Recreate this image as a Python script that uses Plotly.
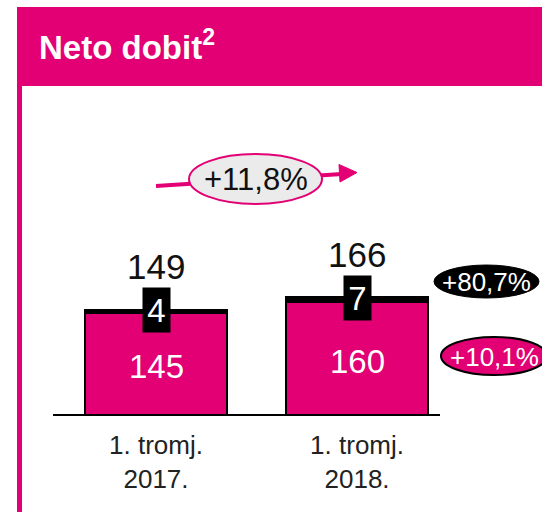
import plotly.graph_objects as go

# ---- data ----
categories = ["1. tromj.<br>2017.", "1. tromj.<br>2018."]
base_values = [145, 160]
top_values = [4, 7]
totals = [149, 166]
total_growth = "+11,8%"
top_growth = "+80,7%"
base_growth = "+10,1%"
title_text = "<b>Neto dobit<sup>2</sup></b>"

MAGENTA = "#E20074"
SANS = "Liberation Sans, Arial, sans-serif"

W, H = 542, 512
PLOT_BOTTOM = 415  # pixel row of the axis baseline
YMAX = 588.7


def X(px):
    return px / W


def Y(py):
    return (PLOT_BOTTOM - py) / PLOT_BOTTOM


fig = go.Figure()
fig.add_trace(go.Bar(
    x=categories, y=base_values, width=0.71,
    marker=dict(color=MAGENTA, line=dict(color="black", width=2)),
    hoverinfo="skip", showlegend=False,
))
fig.add_trace(go.Bar(
    x=categories, y=top_values, width=0.71,
    marker=dict(color="black", line=dict(color="black", width=2)),
    hoverinfo="skip", showlegend=False,
))

annotations = []
for cat, b, t, tot in zip(categories, base_values, top_values, totals):
    # total above the stack
    annotations.append(dict(x=cat, y=tot, xref="x", yref="y", text=str(tot),
                            showarrow=False, xanchor="center", yanchor="middle", yshift=43,
                            font=dict(family=SANS, size=35, color="#111")))
    # black box with the top segment value
    annotations.append(dict(x=cat, y=tot, xref="x", yref="y", text=str(t),
                            showarrow=False, yanchor="middle", xanchor="center",
                            width=27, height=44, bgcolor="black", borderpad=0,
                            font=dict(family=SANS, size=33, color="white")))
    # base value inside the bar
    annotations.append(dict(x=cat, y=b / 2, xref="x", yref="y", text=str(b),
                            showarrow=False, xanchor="center", yanchor="middle", yshift=-3,
                            font=dict(family=SANS, size=33, color="white")))

# title
annotations.append(dict(x=X(37), y=Y(45), xref="paper", yref="paper",
                        text=title_text, showarrow=False, xanchor="left", yanchor="middle",
                        font=dict(family=SANS, size=33, color="white")))
# growth labels
annotations.append(dict(x=X(256), y=Y(179), xref="paper", yref="paper", text=total_growth,
                        showarrow=False, xanchor="center", yanchor="middle",
                        font=dict(family=SANS, size=31, color="#111")))
annotations.append(dict(x=X(486), y=Y(282), xref="paper", yref="paper", text=top_growth,
                        showarrow=False, xanchor="center", yanchor="middle",
                        font=dict(family=SANS, size=26, color="white")))
annotations.append(dict(x=X(494), y=Y(357), xref="paper", yref="paper", text=base_growth,
                        showarrow=False, xanchor="center", yanchor="middle",
                        font=dict(family=SANS, size=26, color="white")))

arrow_head = "M {},{} L {},{} L {},{} Z".format(X(357), Y(172.5), X(339), Y(164.5), X(340), Y(182))

shapes = [
    # header band
    dict(type="rect", xref="paper", yref="paper", x0=X(17), x1=X(542), y0=Y(7), y1=Y(86),
         fillcolor=MAGENTA, line=dict(width=0), layer="below"),
    # left border
    dict(type="rect", xref="paper", yref="paper", x0=X(17), x1=X(22), y0=Y(86), y1=Y(512),
         fillcolor=MAGENTA, line=dict(width=0), layer="below"),
    # baseline
    dict(type="line", xref="paper", yref="paper", x0=X(53), x1=X(440), y0=Y(415), y1=Y(415),
         line=dict(color="black", width=2)),
    # growth arrow line
    dict(type="line", xref="paper", yref="paper", x0=X(156), x1=X(342), y0=Y(186), y1=Y(174),
         line=dict(color=MAGENTA, width=4)),
    # growth arrow head
    dict(type="path", xref="paper", yref="paper", path=arrow_head,
         fillcolor=MAGENTA, line=dict(color=MAGENTA, width=1)),
    # growth ellipse
    dict(type="circle", xref="paper", yref="paper", x0=X(189), x1=X(322), y0=Y(154), y1=Y(204),
         fillcolor="#ebebeb", line=dict(color=MAGENTA, width=2)),
    # black ellipse
    dict(type="circle", xref="paper", yref="paper", x0=X(434), x1=X(539), y0=Y(265), y1=Y(298),
         fillcolor="black", line=dict(color="black", width=1)),
    # magenta ellipse
    dict(type="circle", xref="paper", yref="paper", x0=X(441), x1=X(547), y0=Y(337), y1=Y(375),
         fillcolor=MAGENTA, line=dict(color="black", width=2)),
]

fig.update_layout(
    width=W, height=H,
    margin=dict(l=0, r=0, t=0, b=H - PLOT_BOTTOM, pad=0),
    barmode="stack",
    paper_bgcolor="white", plot_bgcolor="white",
    showlegend=False,
    annotations=annotations,
    shapes=shapes,
    xaxis=dict(range=[-0.776, 1.920], showgrid=False, zeroline=False, showline=False,
               ticks="", ticklabelstandoff=12,
               tickfont=dict(family=SANS, size=26, color="#222"),
               fixedrange=True),
    yaxis=dict(range=[0, YMAX], visible=False, fixedrange=True),
)

fig.write_html("out.html", config={"displayModeBar": False},
               post_script="document.body.style.margin='0';")
